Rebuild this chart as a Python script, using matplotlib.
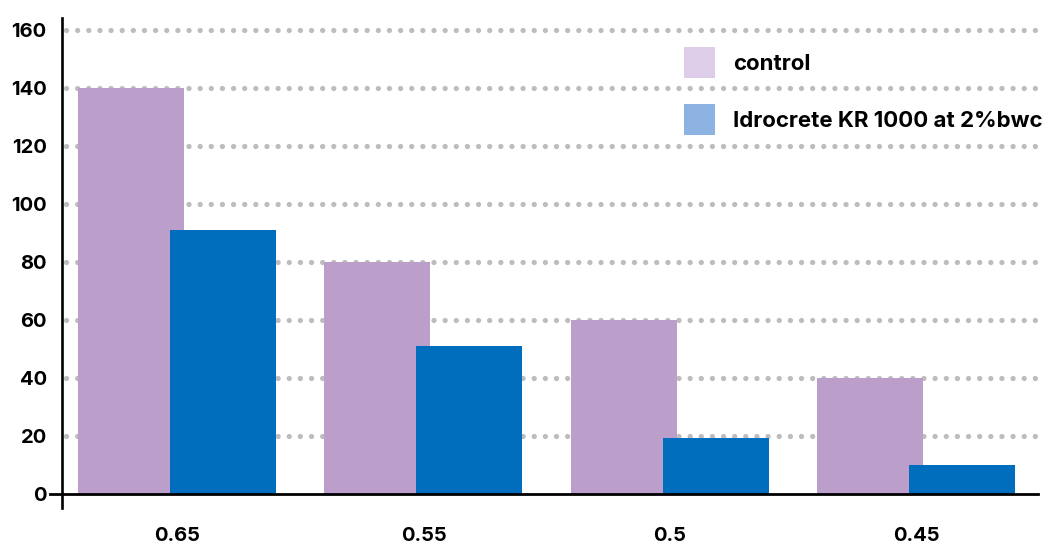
import matplotlib
matplotlib.use("Agg")
import matplotlib.pyplot as plt
from matplotlib.patches import Patch
import numpy as np

categories = ["0.65", "0.55", "0.5", "0.45"]
control = [140, 80, 60, 40]
idrocrete = [91, 51, 19, 10]
series_names = ["control", "Idrocrete KR 1000 at 2%bwc"]
yticks = [0, 20, 40, 60, 80, 100, 120, 140, 160]

plt.rcParams['font.family'] = ['Inter', 'DejaVu Sans']
plt.rcParams['font.weight'] = 'bold'

W, H = 1046, 545
fig = plt.figure(figsize=(W / 100, H / 100), dpi=100)
ax = fig.add_axes([62 / W, (H - 508) / H, 976 / W, (508 - 18) / H])

x = np.arange(len(categories))
bw = 0.4305
off = 0.187
ax.bar(x - off, control, width=bw, color="#BB9ECA", zorder=2)
ax.bar(x + off, idrocrete, width=bw, color="#006EBD", zorder=3)

for v in yticks[1:]:
    ax.axhline(v, color="#BDBDBD", lw=3.8, linestyle=(0, (0.01, 2.1)),
               dash_capstyle="round", zorder=1, xmin=0.004, xmax=1.0)

ax.set_xlim(-0.468, 3.496)
ax.set_ylim(-5, 164)

for s in ["top", "right", "bottom"]:
    ax.spines[s].set_visible(False)
ax.spines["left"].set_linewidth(1.9)
ax.spines["left"].set_color("black")
ax.axhline(0, xmin=-12 / 976, xmax=1.0, color="black", lw=2.0, clip_on=False, zorder=4)

ax.set_yticks(yticks)
ax.set_yticklabels([str(v) for v in yticks])
ax.set_xticks(x)
ax.set_xticklabels(categories)
ax.tick_params(axis="y", length=0, pad=11, labelsize=14.5)
ax.tick_params(axis="x", length=0, pad=14, labelsize=14.5)
for lab in ax.get_xticklabels() + ax.get_yticklabels():
    lab.set_fontweight("bold")

fs = 16
handles = [Patch(facecolor="#DDCDE8", edgecolor="none"),
           Patch(facecolor="#8DB3E2", edgecolor="none")]
leg = fig.legend(handles, series_names, loc="upper left",
                 bbox_to_anchor=(684 / W, 1 - 47 / H), frameon=False,
                 borderpad=0, borderaxespad=0, handlelength=1.4, handleheight=1.8,
                 handletextpad=0.8, labelspacing=1.15,
                 prop={"size": fs, "weight": "bold"})

fig.savefig("out.png", dpi=100)
